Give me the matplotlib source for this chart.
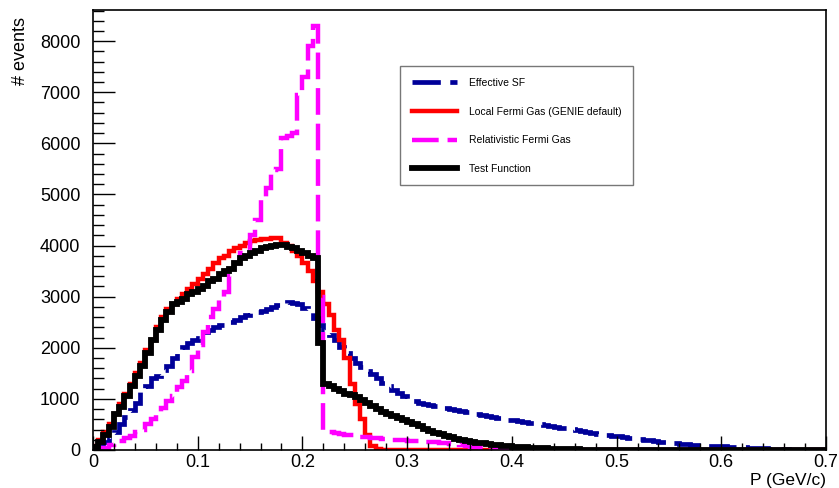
import numpy as np
import matplotlib
matplotlib.use("Agg")
import matplotlib.pyplot as plt

plt.rcParams['font.family'] = ['Liberation Sans', 'DejaVu Sans']

# --- histogram binning (0.005 GeV/c bins from 0 to 0.7) ---
bin_edges = np.linspace(0.0, 0.7, 141)

# Effective SF
effective_sf = [
    20, 60, 150, 250, 350, 500, 650, 780, 910, 1170,
    1250, 1400, 1450, 1560, 1650, 1800, 1950, 2020, 2100, 2150,
    2200, 2300, 2350, 2400, 2450, 2450, 2500, 2550, 2600, 2650,
    2700, 2700, 2720, 2750, 2800, 2830, 2850, 2900, 2880, 2850,
    2780, 2700, 2580, 2450, 2350, 2250, 2150, 2020, 1900, 1800,
    1700, 1620, 1550, 1480, 1400, 1320, 1250, 1180, 1120, 1060,
    1000, 950, 920, 900, 880, 860, 840, 820, 800, 780,
    760, 740, 720, 700, 680, 660, 640, 620, 600, 590,
    580, 560, 550, 530, 520, 510, 490, 470, 450, 430,
    430, 410, 390, 370, 350, 330, 310, 300, 290, 280,
    270, 250, 240, 220, 210, 200, 190, 175, 160, 150,
    140, 130, 120, 110, 100, 95, 90, 85, 80, 75,
    70, 65, 60, 55, 50, 45, 40, 35, 30, 25,
    20, 15, 10, 5, 0, 0, 0, 0, 0, 0,
]

# Local Fermi Gas (GENIE default)
local_fg = [
    80, 200, 350, 500, 700, 900, 1100, 1300, 1500, 1700,
    1950, 2150, 2400, 2600, 2750, 2850, 2950, 3050, 3150, 3250,
    3350, 3450, 3550, 3650, 3750, 3800, 3900, 3950, 4000, 4050,
    4080, 4100, 4120, 4130, 4150, 4150, 4050, 4000, 3900, 3800,
    3650, 3500, 3300, 3100, 2850, 2650, 2350, 2150, 1800, 1300,
    900, 600, 300, 80, 10, 5, 3, 2, 1, 1,
] + [0] * 80

# Relativistic Fermi Gas
relativistic_fg = [
    0, 0, 30, 90, 130, 170, 230, 280, 350, 400,
    500, 600, 700, 820, 950, 1050, 1230, 1350, 1550, 1820,
    2050, 2300, 2600, 2750, 3000, 3100, 3400, 3650, 3850, 3900,
    4200, 4500, 4900, 5130, 5480, 5500, 6100, 6150, 6200, 6950,
    7300, 7900, 8300, 3000, 380, 350, 340, 320, 300, 290,
    280, 260, 250, 240, 230, 220, 210, 200, 195, 190,
    185, 180, 170, 165, 160, 150, 140, 130, 120, 110,
    95, 80, 65, 50, 40, 30, 20, 10, 5, 0,
] + [0] * 60

# Test Function
test_function = [
    50, 150, 300, 450, 700, 850, 1050, 1250, 1450, 1650,
    1900, 2150, 2350, 2550, 2700, 2850, 2900, 2950, 3050, 3100,
    3150, 3200, 3300, 3350, 3450, 3500, 3550, 3650, 3750, 3800,
    3850, 3900, 3950, 3980, 4000, 4020, 4010, 3980, 3950, 3900,
    3850, 3800, 3750, 2100, 1300, 1250, 1200, 1150, 1100, 1080,
    1040, 980, 920, 860, 800, 750, 700, 660, 620, 580,
    540, 500, 460, 420, 380, 340, 310, 280, 250, 220,
    200, 180, 160, 145, 130, 115, 100, 90, 80, 70,
    60, 55, 50, 45, 40, 35, 30, 25, 20, 18,
    15, 12, 10, 8, 6, 5, 4, 3, 2, 2,
    1, 0, 0, 0, 0, 0, 0, 0, 0, 0,
] + [0] * 30

fig = plt.figure(figsize=(8.39, 4.88), dpi=100)
ax = fig.add_axes([0.1108, 0.0779, 0.8737, 0.9016])

ax.stairs(effective_sf, bin_edges, baseline=None, color='#000099', linewidth=3.4,
          linestyle=(0, (6, 2)), label='Effective SF')
ax.stairs(local_fg, bin_edges, baseline=None, color='#ff0000', linewidth=3.2,
          label='Local Fermi Gas (GENIE default)')
ax.stairs(relativistic_fg, bin_edges, baseline=None, color='#ff00ff', linewidth=3.2,
          linestyle=(0, (6, 2)), label='Relativistic Fermi Gas')
ax.stairs(test_function, bin_edges, baseline=None, color='black', linewidth=4.2,
          label='Test Function')

ax.set_xlim(0, 0.7)
ax.set_ylim(0, 8610)
ax.set_xticks(np.arange(0, 0.71, 0.1))
ax.set_xticklabels(['0', '0.1', '0.2', '0.3', '0.4', '0.5', '0.6', '0.7'])
ax.set_xticks(np.arange(0, 0.71, 0.02), minor=True)
ax.set_yticks(np.arange(0, 8001, 1000))
ax.set_yticks(np.arange(0, 8601, 200), minor=True)

ax.tick_params(axis='both', which='both', direction='in', top=False, right=False,
               labelsize=13, width=1)
ax.tick_params(axis='x', which='major', length=10, pad=3)
ax.tick_params(axis='x', which='minor', length=5)
ax.tick_params(axis='y', which='major', length=16, pad=9)
ax.tick_params(axis='y', which='minor', length=8)
for sp in ax.spines.values():
    sp.set_linewidth(1.2)

fig.text(0.025, 0.965, '# events', rotation=90, ha='center', va='top', fontsize=13)
fig.text(0.985, 0.0, 'P (GeV/c)', ha='right', va='bottom', fontsize=12.5)

leg = ax.legend(loc='upper left', bbox_to_anchor=(0.419, 0.872), fontsize=7.5,
                frameon=True, fancybox=False, edgecolor='#555555',
                handlelength=4.4, handletextpad=1.1, labelspacing=1.8,
                borderpad=1.1, borderaxespad=0)
leg.get_frame().set_linewidth(1.0)

fig.savefig('out.png', dpi=100)
